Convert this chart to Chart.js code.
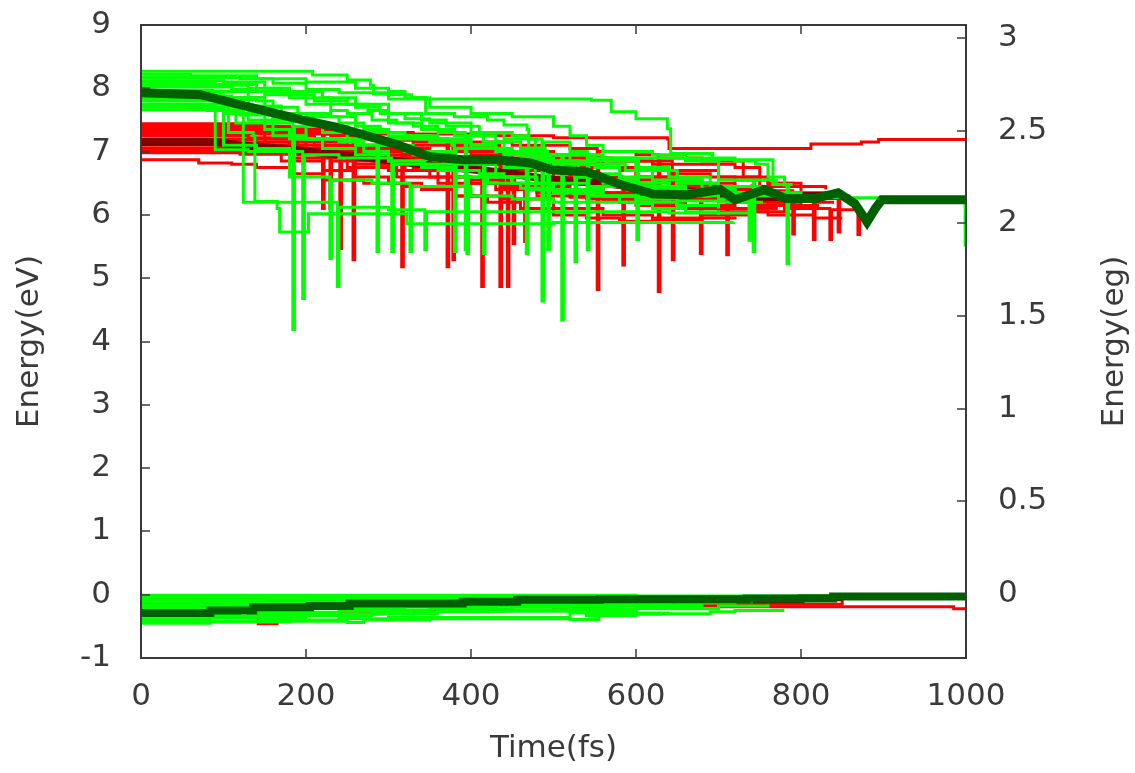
<!DOCTYPE html>
<html>
<head>
<meta charset="utf-8">
<script src="https://cdn.jsdelivr.net/npm/chart.js@4.4.1/dist/chart.umd.min.js"></script>
<style>
  html, body { margin: 0; padding: 0; background: #fff; }
  canvas { display: block; }
</style>
</head>
<body>
<canvas id="graficoEnergia" width="1135" height="773"></canvas>
<script>
// Ejes
const ticksX = [0, 200, 400, 600, 800, 1000];
const ticksIzq = [-1, 0, 1, 2, 3, 4, 5, 6, 7, 8, 9];
const ticksDer = [0, 0.5, 1, 1.5, 2, 2.5, 3];

// Promedios (líneas gruesas) [tiempo fs, energía eV]
const mediaVerdeSup = [[0,7.93],[72,7.90],[114,7.76],[154,7.63],[195,7.50],[235,7.39],[269,7.27],[310,7.11],[350,6.92],[390,6.87],[432,6.87],[472,6.82],[499,6.71],[541,6.68],[581,6.48],[621,6.33],[662,6.32],[702,6.40],[720,6.24],[756,6.40],[781,6.26],[817,6.26],[845,6.35],[865,6.18],[880,5.89],[890,6.10],[898,6.24],[1000,6.24]];
const mediaVerdeInf = [[0,-0.29],[84,-0.25],[136,-0.20],[205,-0.18],[253,-0.14],[390,-0.11],[456,-0.08],[556,-0.07],[645,-0.07],[734,-0.06],[839,-0.03],[1000,-0.03]];
const mediaRojaSup = [[0,7.15],[90,7.15],[120,7.10],[170,7.05],[220,6.98],[280,6.90],[340,6.80],[400,6.72],[450,6.65],[500,6.55],[560,6.50],[620,6.42],[680,6.35],[720,6.30],[760,6.28],[800,6.30],[850,6.30]];
const mediaRojaInf = [[0,-0.10],[300,-0.10],[600,-0.08],[800,-0.05],[850,-0.05]];

// Trayectorias verdes (estado superior)
const g1 = [[0,8.27],[208,8.21],[250,8.13],[278,8.05],[282,7.91],[300,7.83],[546,7.81],[570,7.63],[600,7.52],[638,7.36],[642,6.97],[693,6.87],[766,6.48],[783,5.23],[785,6.48],[790,6.48]];
const g2 = [[0,8.17],[120,8.15],[160,8.08],[200,7.98],[240,7.93],[300,7.90],[328,7.85],[345,7.60],[380,7.55],[420,7.50],[440,7.42],[468,7.35],[470,6.95],[510,4.34],[512,6.95],[560,6.90],[601,5.61],[603,6.90],[660,6.85],[700,6.55],[742,5.42],[744,6.55],[770,6.50]];
const g3 = [[0,8.08],[90,8.06],[140,7.95],[180,7.85],[230,7.75],[260,7.70],[290,7.60],[320,7.52],[350,7.45],[400,7.30],[440,7.20],[486,4.64],[488,7.15],[520,7.00],[541,5.45],[543,6.90],[600,6.75],[640,6.60],[690,6.40],[720,6.30],[800,6.27],[900,6.24],[998,6.24],[999,5.50]];
const g4 = [[0,8.02],[110,7.98],[130,7.50],[150,7.45],[184,4.19],[186,7.40],[220,7.30],[250,7.20],[286,5.42],[288,7.10],[330,6.95],[380,6.90],[415,5.39],[417,6.85],[470,6.75],[526,5.26],[528,6.65],[580,6.50],[620,6.30],[700,6.25],[740,6.20]];
const g5 = [[0,7.97],[87,7.95],[90,7.03],[130,7.00],[196,4.68],[198,6.95],[240,6.90],[304,5.42],[306,6.80],[360,6.70],[395,5.39],[397,6.60],[450,6.50],[500,6.40],[560,6.30],[600,6.20],[650,6.15],[700,6.10]];
const g6 = [[0,7.90],[96,7.88],[100,7.10],[140,7.05],[180,6.60],[229,5.31],[231,6.55],[280,6.50],[326,5.42],[328,6.45],[400,6.30],[450,6.25],[500,6.20],[600,6.18],[620,6.15]];
const g7 = [[0,7.85],[120,7.82],[124,6.20],[229,6.20],[238,4.87],[240,6.12],[300,6.08],[344,5.45],[346,6.05],[486,6.05],[640,6.03],[738,6.03]];
const g8 = [[0,7.80],[104,7.78],[106,7.30],[136,7.25],[138,6.21],[165,6.10],[168,5.73],[201,5.73],[203,6.02],[305,6.02],[322,5.86],[500,5.88],[718,5.89]];
const g9 = [[0,7.75],[130,7.72],[170,7.60],[200,7.55],[240,7.45],[270,7.35],[300,7.20],[377,7.10],[380,5.42],[382,7.05],[440,6.95],[467,5.39],[469,6.85],[530,6.80],[587,6.70],[620,6.55],[680,6.42],[720,6.35],[760,6.30]];
const g10 = [[0,7.70],[60,7.68],[100,7.60],[150,7.50],[200,7.40],[250,7.30],[300,7.25],[350,7.15],[400,7.05],[450,7.00],[493,5.45],[495,6.95],[550,6.85],[600,6.70],[650,6.50],[700,6.45],[750,6.35],[800,6.30],[850,6.30]];
const g11 = [[0,7.66],[80,7.65],[120,7.58],[160,7.52],[200,7.20],[260,7.10],[320,7.00],[380,6.80],[430,6.60],[480,6.50],[541,6.45],[600,6.40],[660,6.35],[700,6.30]];
const g12 = [[0,8.22],[60,8.20],[140,8.15],[200,8.10],[260,8.00],[300,7.95],[320,7.85],[350,7.70],[400,7.60],[450,7.55],[500,7.40],[520,7.25],[540,7.10],[560,7.00],[620,6.95],[660,6.90],[720,6.85],[745,6.80],[760,6.60],[780,6.45]];
const g13 = [[0,8.12],[100,8.10],[150,8.00],[180,7.95],[220,7.85],[260,7.75],[300,7.60],[340,7.50],[370,7.40],[410,7.30],[450,7.25],[470,7.20],[478,6.40],[520,6.35],[560,6.30],[600,6.25],[650,6.22],[700,6.20],[754,6.20]];
const g14 = [[0,7.95],[150,7.90],[200,7.75],[230,7.65],[250,7.60],[280,7.50],[310,7.45],[340,7.35],[380,7.25],[415,7.15],[440,6.75],[500,6.70],[526,6.60],[560,6.50],[600,6.45],[640,6.40]];
const g15 = [[0,7.88],[110,7.86],[150,7.70],[190,7.60],[230,7.55],[260,7.40],[290,7.30],[320,7.25],[360,7.20],[400,7.10],[430,7.00],[460,6.90],[500,6.80],[530,6.60],[560,6.55],[600,6.50],[640,6.45],[660,6.40]];
const g16 = [[0,7.82],[140,7.80],[160,7.25],[200,7.20],[240,7.15],[270,7.00],[300,6.85],[344,6.80],[380,6.70],[410,6.65],[440,6.60],[470,6.40],[500,6.35],[541,6.30],[580,6.20],[620,6.10],[660,6.05],[700,6.00]];
const g17 = [[0,8.05],[130,8.00],[170,7.90],[210,7.80],[250,7.75],[275,7.65],[300,7.45],[330,7.40],[360,7.30],[393,5.45],[395,7.25],[430,7.15],[460,7.05],[490,6.95],[520,6.85],[550,6.75],[580,6.60],[620,6.45],[660,6.38],[700,6.35],[735,6.30],[737,5.60],[739,6.30],[742,6.30]];
const g18 = [[0,7.72],[90,7.70],[115,7.45],[150,7.35],[180,7.20],[220,7.05],[260,6.95],[300,6.85],[340,6.75],[380,6.60],[420,6.50],[460,6.42],[500,6.35],[550,6.30],[600,6.28],[650,6.25]];

// Trayectorias rojas (estado superior)
const r1 = [[0,7.44],[90,7.44],[130,7.40],[180,7.35],[250,7.30],[330,7.28],[400,7.25],[500,7.22],[638,7.20],[640,7.05],[810,7.05],[812,7.12],[873,7.15],[894,7.19],[1000,7.19]];
const r2 = [[0,7.40],[165,7.38],[200,7.30],[220,6.10],[222,7.28],[300,7.20],[371,5.18],[373,7.15],[450,7.10],[520,7.05],[553,4.82],[555,7.00],[600,6.95],[627,4.79],[629,6.90],[680,6.85],[730,6.60],[760,6.50]];
const r3 = [[0,7.35],[150,7.32],[210,7.20],[241,5.47],[243,7.10],[300,7.00],[316,5.18],[318,6.95],[380,6.85],[413,4.87],[415,6.80],[470,6.70],[520,6.60],[584,5.21],[586,6.55],[640,6.45],[700,6.40],[740,6.38],[790,5.70],[792,6.35],[840,6.30],[850,6.30]];
const r4 = [[0,7.30],[200,7.28],[257,5.29],[259,7.20],[330,7.15],[378,5.29],[380,7.10],[435,4.87],[437,7.00],[500,6.90],[560,6.85],[644,5.29],[646,6.70],[700,6.60],[750,6.45],[800,6.30],[845,5.73],[847,6.30],[860,6.30]];
const r5 = [[0,7.25],[130,7.22],[180,7.05],[229,6.10],[231,7.00],[300,6.90],[350,6.80],[444,4.87],[446,6.70],[500,6.60],[560,6.50],[620,6.45],[678,5.39],[680,6.40],[740,6.25],[815,5.61],[817,6.20],[840,6.20]];
const r6 = [[0,7.20],[150,7.15],[200,7.00],[270,6.90],[330,6.75],[380,6.70],[451,5.55],[453,6.60],[500,6.50],[550,6.35],[600,6.25],[710,5.37],[712,6.20],[780,6.10],[835,5.61],[837,6.08],[869,5.69],[871,6.05],[875,6.05]];
const r7 = [[0,7.10],[100,7.08],[160,7.00],[210,6.95],[260,6.80],[300,6.70],[350,6.60],[400,6.50],[465,5.58],[467,6.45],[520,6.35],[580,6.20],[640,6.10],[700,6.05],[760,6.00],[815,5.95],[850,5.95]];
const r8 = [[0,7.05],[160,7.02],[190,6.95],[230,6.85],[290,6.80],[360,6.70],[420,6.60],[500,6.40],[560,6.30],[600,6.20],[660,6.15],[720,6.10],[770,6.15],[800,6.12]];
const r9 = [[0,6.98],[120,6.96],[180,6.90],[250,6.75],[310,6.60],[360,6.50],[430,6.40],[480,6.30],[540,6.25],[600,6.30],[660,6.35],[720,6.40],[760,6.50],[790,6.45]];
const r10 = [[0,6.87],[50,6.87],[70,6.82],[110,6.80],[140,6.75],[180,6.65],[220,6.55],[270,6.50],[320,6.45],[380,6.30],[440,6.25],[500,6.10],[560,6.00],[620,5.95],[680,6.00],[740,6.05],[780,6.08]];
const r11 = [[0,7.12],[150,7.10],[200,7.05],[260,7.00],[320,6.90],[390,6.85],[460,6.80],[520,6.75],[580,6.70],[640,6.65],[690,6.60],[720,6.55],[760,6.50],[800,6.45],[830,6.40]];
const r12 = [[0,7.38],[180,7.35],[230,7.25],[280,7.18],[330,7.10],[400,7.00],[460,6.95],[520,6.90],[570,6.85],[620,6.80],[720,6.75],[750,6.60]];
const r13 = [[0,7.28],[170,7.25],[210,7.10],[250,6.95],[280,6.85],[320,6.70],[360,6.60],[400,6.55],[440,6.45],[480,6.35],[520,6.28],[560,6.22],[600,6.15],[640,6.12],[690,6.10],[740,6.15],[780,6.20],[800,6.15]];
const r14 = [[0,7.18],[140,7.15],[190,7.10],[240,7.05],[300,6.95],[340,6.90],[400,6.85],[500,6.80],[540,6.75],[600,6.60],[640,6.55],[680,6.50],[720,6.45],[740,6.48]];
const r15 = [[0,7.42],[100,7.42],[150,7.20],[200,7.15],[250,7.10],[300,7.05],[350,7.00],[400,6.95],[450,6.90],[500,6.85],[560,6.75],[600,6.60],[650,6.50],[690,6.45],[720,6.25],[760,6.20],[790,6.15],[820,6.10]];
const r16 = [[0,7.00],[130,6.98],[170,6.85],[220,6.70],[260,6.60],[300,6.50],[340,6.40],[380,6.30],[420,6.20],[460,6.10],[500,6.00],[540,5.95],[580,5.90],[620,5.92],[680,5.95],[720,5.97]];

// Trayectorias del estado inferior
const lg1 = [[0,-0.01],[400,-0.01],[600,-0.02],[840,-0.02]];
const lg2 = [[0,-0.08],[150,-0.07],[300,-0.05],[500,-0.04],[700,-0.05],[800,-0.04]];
const lg3 = [[0,-0.16],[100,-0.15],[250,-0.12],[400,-0.10],[550,-0.09],[760,-0.08]];
const lg4 = [[0,-0.22],[84,-0.20],[200,-0.18],[330,-0.15],[480,-0.13],[620,-0.11],[740,-0.10]];
const lg5 = [[0,-0.30],[120,-0.28],[240,-0.25],[350,-0.22],[450,-0.20],[520,-0.26],[600,-0.22],[700,-0.18],[760,-0.15]];
const lg6 = [[0,-0.38],[84,-0.36],[200,-0.33],[280,-0.30],[360,-0.26],[440,-0.24],[540,-0.33],[600,-0.30],[690,-0.27],[720,-0.25],[778,-0.22]];
const lg7 = [[0,-0.45],[84,-0.43],[180,-0.42],[250,-0.44],[270,-0.40],[350,-0.38],[520,-0.39],[555,-0.33],[590,-0.31],[630,-0.30]];
const lg8 = [[0,-0.42],[150,-0.40],[240,-0.38],[300,-0.36],[480,-0.36],[520,-0.29],[640,-0.28]];
const lg9 = [[0,-0.04],[120,-0.04],[260,-0.03],[450,-0.03],[600,-0.05],[700,-0.06],[780,-0.06]];
const lg10 = [[0,-0.12],[140,-0.11],[280,-0.09],[420,-0.07],[560,-0.06],[700,-0.08],[760,-0.08]];
const lg11 = [[0,-0.19],[110,-0.18],[230,-0.15],[380,-0.13],[520,-0.12],[650,-0.13],[720,-0.12]];
const lg12 = [[0,-0.26],[90,-0.25],[200,-0.22],[320,-0.20],[430,-0.17],[560,-0.17],[680,-0.15]];
const lg13 = [[0,-0.34],[130,-0.33],[220,-0.30],[330,-0.27],[420,-0.26],[520,-0.22],[600,-0.19],[660,-0.18]];
const lr1 = [[0,-0.03],[51,-0.03],[55,-0.20],[142,-0.46],[165,-0.30],[300,-0.25],[500,-0.20],[560,-0.26],[600,-0.20],[645,-0.18],[700,-0.19],[778,-0.19],[985,-0.22],[1000,-0.22]];
const lr2 = [[0,-0.12],[200,-0.10],[400,-0.08],[550,-0.10],[645,-0.15],[840,-0.15],[850,-0.05]];

const verdes = [g1, g2, g3, g4, g5, g6, g7, g8, g9, g10, g11, g12, g13, g14, g15, g16, g17, g18,
  lg1, lg2, lg3, lg4, lg5, lg6, lg7, lg8, lg9, lg10, lg11, lg12, lg13];
const rojas = [r1, r2, r3, r4, r5, r6, r7, r8, r9, r10, r11, r12, r13, r14, r15, r16, lr1, lr2];

const colorTexto = '#3a3a3a';
const fuente = 'DejaVu Sans';

function aPuntos(serie) {
  return serie.map(p => ({ x: p[0], y: p[1] }));
}

function linea(serie, color, ancho, escalon) {
  return {
    data: aPuntos(serie),
    borderColor: color,
    borderWidth: ancho,
    pointRadius: 0,
    fill: false,
    stepped: escalon,
    tension: 0,
    borderJoinStyle: 'miter'
  };
}

// el primer dataset queda encima
const datasets = [
  linea(mediaVerdeSup, '#006000', 9, false),
  linea(mediaVerdeInf, '#006000', 8, true),
  ...verdes.map(s => linea(s, '#00ff00', 3, true)),
  linea(mediaRojaSup, '#800000', 8, false),
  linea(mediaRojaInf, '#800000', 7, true),
  ...rojas.map(s => linea(s, '#ff0000', 3, true))
];

const marco = {
  id: 'marco',
  afterDraw(chart) {
    const { ctx, chartArea: a, scales } = chart;
    ctx.save();
    ctx.strokeStyle = colorTexto;
    ctx.lineWidth = 2;
    ctx.strokeRect(a.left, a.top, a.right - a.left, a.bottom - a.top);
    ctx.lineWidth = 1.5;
    ctx.beginPath();
    ticksX.forEach(v => {
      const px = Math.round(scales.x.getPixelForValue(v));
      ctx.moveTo(px, a.bottom); ctx.lineTo(px, a.bottom - 9);
      ctx.moveTo(px, a.top); ctx.lineTo(px, a.top + 9);
    });
    ticksIzq.forEach(v => {
      const py = Math.round(scales.y.getPixelForValue(v));
      ctx.moveTo(a.left, py); ctx.lineTo(a.left + 9, py);
    });
    ticksDer.forEach(v => {
      const py = Math.round(scales.y1.getPixelForValue(v));
      ctx.moveTo(a.right, py); ctx.lineTo(a.right - 9, py);
    });
    ctx.stroke();
    // título del eje derecho, leído de abajo hacia arriba
    ctx.fillStyle = colorTexto;
    ctx.font = '31px "' + fuente + '"';
    ctx.textAlign = 'center';
    ctx.textBaseline = 'middle';
    ctx.translate(1115, (a.top + a.bottom) / 2);
    ctx.rotate(-Math.PI / 2);
    ctx.fillText('Energy(eg)', 0, 0);
    ctx.restore();
  }
};

function fijarTicks(valores) {
  return scale => { scale.ticks = valores.map(v => ({ value: v })); };
}

function sinRelleno(ancho, alto) {
  return s => {
    if (ancho) s.width = ancho;
    if (alto) s.height = alto;
    s.paddingTop = 0; s.paddingBottom = 0;
    s.paddingLeft = 0; s.paddingRight = 0;
  };
}

const etiqueta = v => String(v);

Chart.defaults.font.family = fuente;
Chart.defaults.color = colorTexto;

new Chart(document.getElementById('graficoEnergia'), {
  type: 'line',
  data: { datasets: datasets },
  options: {
    responsive: false,
    animation: false,
    devicePixelRatio: 1,
    layout: { padding: { top: 25, left: 0, right: 0, bottom: 0 } },
    plugins: {
      legend: { display: false },
      tooltip: { enabled: false }
    },
    scales: {
      x: {
        type: 'linear',
        min: 0,
        max: 1000,
        afterBuildTicks: fijarTicks(ticksX),
        afterFit: sinRelleno(0, 115),
        grid: { display: false, drawTicks: false },
        border: { display: false },
        ticks: { font: { size: 31 }, padding: 20, maxRotation: 0, autoSkip: false, callback: etiqueta },
        title: { display: true, text: 'Time(fs)', font: { size: 31 }, padding: { top: 0, bottom: 5 } }
      },
      y: {
        type: 'linear',
        position: 'left',
        min: -1,
        max: 9,
        afterBuildTicks: fijarTicks(ticksIzq),
        afterFit: sinRelleno(141, 0),
        grid: { display: false, drawTicks: false },
        border: { display: false },
        ticks: { font: { size: 31 }, padding: 30, autoSkip: false, callback: etiqueta },
        title: { display: true, text: 'Energy(eV)', font: { size: 31 }, padding: { top: 11, bottom: 0 } }
      },
      y1: {
        type: 'linear',
        position: 'right',
        min: -0.345,
        max: 3.07,
        afterBuildTicks: fijarTicks(ticksDer),
        afterFit: sinRelleno(169, 0),
        grid: { display: false, drawTicks: false },
        border: { display: false },
        ticks: { font: { size: 31 }, padding: 32, autoSkip: false, callback: etiqueta }
      }
    }
  },
  plugins: [marco]
});
</script>
</body>
</html>
